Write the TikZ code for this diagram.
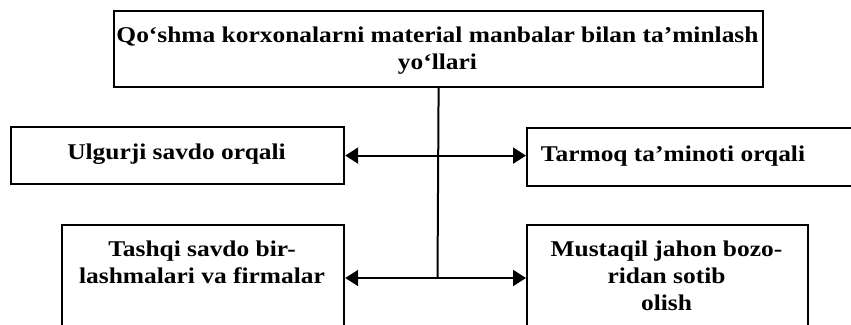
\documentclass[tikz,border=0pt]{standalone}
\usepackage{fontspec}
\setmainfont{Liberation Serif}[FakeStretch=1.13]
\usetikzlibrary{arrows.meta}
\begin{document}
\begin{tikzpicture}[x=1pt,y=-1pt,
  box/.style={draw,line width=2.2pt,rectangle,inner sep=0pt,anchor=north west},
  lbl/.style={font=\fontsize{22.5}{27}\selectfont\bfseries,align=center,inner sep=0pt},
  conn/.style={line width=2pt},
  dbl/.style={conn,{Triangle[length=13pt,width=16pt]}-{Triangle[length=13pt,width=16pt]}}]
\useasboundingbox (0,0) rectangle (851,324);
\clip (0,0) rectangle (851,324);
% boxes
\node[box,minimum width=649pt,minimum height=76pt] (top) at (113,10) {};
\node[box,minimum width=333pt,minimum height=57pt] (ul) at (10,126) {};
\node[box,minimum width=340pt,minimum height=58pt] (tm) at (526,127) {};
\node[box,minimum width=282pt,minimum height=120pt] (bl) at (61,224) {};
\node[box,minimum width=281pt,minimum height=120pt] (br) at (526,224) {};
% texts
\node[lbl] (toptext) at (437.5,51) {Qo‘shma korxonalarni material manbalar bilan ta’minlash\\yo‘llari};
\node[lbl] (ultext) at (176.5,154) {Ulgurji savdo orqali};
\node[lbl] (tmtext) at (673,156) {Tarmoq ta’minoti orqali};
\node[lbl] (bltext) at (202,262) {Tashqi savdo bir-\\lashmalari va firmalar};
\node[lbl] (brtext) at (666.5,276) {Mustaqil jahon bozo-\\ridan sotib\\olish};
% connectors
\coordinate (jb) at (437.5,278);
\draw[conn] (top.south) -- (jb);
\draw[dbl] (ul.east) -- (ul.east -| tm.west);
\draw[dbl] (jb -| bl.east) -- (jb -| br.west);
\end{tikzpicture}
\end{document}
